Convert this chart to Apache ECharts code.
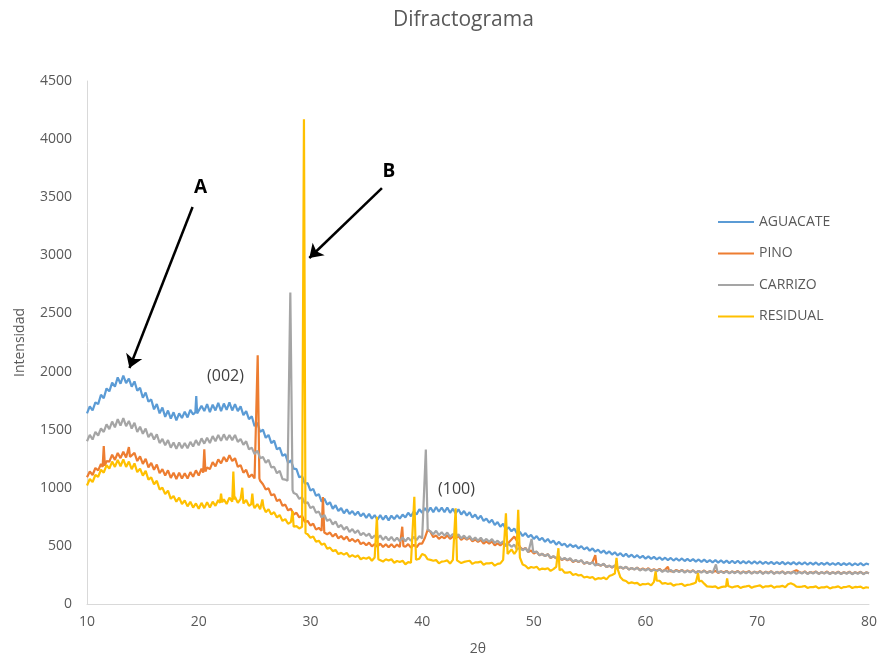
<!DOCTYPE html>
<html>
<head>
<meta charset="utf-8">
<script src="https://cdn.jsdelivr.net/npm/echarts@6/dist/echarts.min.js"></script>
<style>
html,body{margin:0;padding:0;background:#fff;}
#chart{width:880px;height:662px;}
</style>
</head>
<body>
<div id="chart"></div>
<script>
// ---- data ----
const chartTitle = 'Difractograma';
const xName = '2θ';
const yName = 'Intensidad';
const seriesNames = ['AGUACATE', 'PINO', 'CARRIZO', 'RESIDUAL'];
const twoThetaStart = 10;
const twoThetaStep = 0.25;
const xTicks = [10, 20, 30, 40, 50, 60, 70, 80];
const yTicks = [0, 500, 1000, 1500, 2000, 2500, 3000, 3500, 4000, 4500];

const aguacate = [
1640,1700,1665,1735, 1720,1800,1770,1855, 1830,1905,1870,1950, 1895,1965,1900,1940,
1870,1915,1835,1860, 1775,1820,1740,1760, 1675,1720,1640,1690, 1610,1665,1595,1650,
1580,1640,1600,1655, 1605,1670,1630,1700, 1640,1705,1660,1720, 1650,1715,1665,1730,
1660,1725,1670,1735, 1665,1720,1660,1700, 1625,1660,1590,1615, 1530,1560,1480,1500,
1430,1455,1385,1405, 1330,1345,1275,1290, 1215,1235,1165,1160, 1090,1100,1035,1040,
975,990,930,945, 880,905,855,875, 820,850,800,825, 780,815,775,800,
765,795,755,780, 740,775,735,765, 725,765,725,760, 720,760,730,765,
735,770,745,785, 755,795,770,815, 785,825,790,830, 790,835,795,830,
790,830,785,820, 780,815,770,800, 760,790,745,770, 730,760,715,735,
700,725,680,705, 665,690,640,660, 625,650,605,620, 585,610,575,595,
560,585,550,570, 535,560,525,545, 510,535,505,520, 490,515,490,505,
478,498,470,488, 458,478,450,468, 440,460,433,452, 425,445,418,437,
410,432,405,424, 400,420,396,414, 390,410,388,405, 384,402,380,398,
378,396,374,392, 372,392,370,388, 368,386,365,383, 362,382,360,378,
358,378,356,376, 354,374,352,372, 352,372,350,368, 350,368,347,366,
348,366,345,363, 346,363,343,361, 344,362,341,359, 342,360,340,357,
341,359,338,356, 340,357,337,354, 338,356,336,352, 337,354,334,351,
336,352,333,350, 335,351,332,348, 340
];
const pino = [
1090,1140,1110,1170, 1150,1205,1190,1230, 1225,1285,1240,1300, 1255,1310,1260,1290,
1255,1300,1230,1270, 1205,1250,1175,1215, 1155,1200,1125,1160, 1105,1150,1085,1130,
1075,1130,1080,1125, 1080,1135,1095,1150, 1105,1165,1140,1175, 1160,1220,1185,1245,
1210,1265,1225,1280, 1230,1255,1180,1195, 1130,1155,1090,1115, 1080,1100,1060,1030,
985,995,935,945, 885,900,845,855, 805,820,770,785, 745,760,705,715,
675,690,640,655, 630,620,600,615, 580,605,565,585, 555,580,540,560,
535,555,515,530, 505,528,495,515, 492,520,490,515, 488,515,487,512,
490,510,492,515, 485,510,488,520, 520,570,640,620, 575,590,560,580,
565,590,560,580, 565,585,552,572, 555,572,538,555, 535,552,520,538,
520,538,505,522, 505,525,500,530, 555,580,540,490, 468,482,448,460,
435,450,418,432, 412,428,396,410, 392,408,378,392, 375,390,362,375,
360,375,345,360, 345,360,350,345, 330,345,318,330, 314,330,305,318,
305,320,297,310, 298,313,292,305, 292,308,287,300, 287,302,282,296,
300,298,278,292, 279,294,274,288, 276,290,271,285, 274,288,269,283,
272,286,267,281, 271,285,266,280, 270,284,265,279, 269,283,264,278,
268,282,263,277, 268,281,263,276, 267,281,262,276, 267,280,290,276,
266,280,261,275, 266,279,261,274, 265,279,260,274, 265,278,260,273,
264,278,259,273, 264,277,259,272, 265
];
const carrizo = [
1400,1455,1415,1480, 1450,1510,1480,1545, 1505,1570,1520,1590, 1535,1600,1530,1575,
1510,1560,1480,1525, 1465,1510,1435,1470, 1415,1460,1385,1420, 1365,1410,1345,1390,
1335,1390,1340,1385, 1340,1395,1355,1410, 1365,1425,1380,1430, 1385,1445,1400,1455,
1405,1460,1410,1455, 1410,1455,1395,1420, 1370,1400,1330,1345, 1290,1320,1255,1265,
1215,1240,1175,1180, 1125,1145,1075,1070, 1010,990,955,945, 905,920,865,875,
825,840,785,795, 745,765,715,730, 685,710,660,680, 640,665,620,645,
610,635,592,612, 585,605,565,590, 560,590,552,580, 548,578,542,570,
540,572,540,570, 545,578,550,585, 565,600,620,625, 600,630,592,618,
588,615,578,602, 575,600,565,588, 560,585,550,572, 545,570,538,560,
535,558,525,545, 520,540,500,515, 492,510,470,485, 462,480,445,460,
435,450,418,432, 412,428,398,412, 395,410,382,396, 380,395,366,380,
362,378,348,360, 344,360,332,345, 330,346,318,330, 316,332,306,320,
306,320,297,310, 297,312,288,302, 288,303,282,296, 282,298,277,292,
277,294,273,289, 274,291,270,287, 272,288,268,284, 270,286,266,282,
268,285,265,281, 266,283,263,280, 265,282,262,279, 264,281,261,278,
264,280,260,277, 263,280,260,277, 263,279,259,276, 262,279,259,276,
262,278,258,275, 261,278,258,275, 261,277,257,274, 260,277,257,274,
260,276,256,273, 259,276,256,272, 265
];
const residual = [
1020,1075,1050,1110, 1095,1155,1130,1195, 1165,1225,1180,1240, 1185,1245,1180,1225,
1160,1210,1135,1165, 1105,1145,1070,1090, 1030,1060,985,1000, 945,975,905,930,
880,915,860,890, 840,880,830,865, 820,870,825,875, 830,880,845,895,
870,900,860,915, 880,920,870,905, 860,895,845,880, 825,860,815,850,
790,815,770,790, 745,765,715,730, 690,705,660,670, 650,665,610,600,
570,580,535,545, 510,520,475,485, 455,465,430,440, 425,440,405,420,
405,418,385,398, 390,402,372,400, 380,395,365,385, 375,385,355,370,
362,372,342,360, 355,360,370,390, 430,420,385,380, 372,378,350,365,
368,375,348,380, 370,385,352,362, 368,372,345,358, 358,365,338,350,
350,355,330,345, 350,380,400,420, 470,430,450,400, 340,330,305,318,
312,320,295,305, 300,308,285,300, 320,300,300,270, 270,275,250,258,
245,250,228,235, 225,232,210,222, 218,228,212,240, 250,262,300,230,
205,198,178,186, 178,182,162,172, 170,176,160,190, 200,200,175,180,
172,178,158,168, 170,174,155,165, 168,175,185,190, 200,175,152,150,
148,152,135,145, 150,155,160,142, 150,155,138,148, 152,157,140,150,
155,160,142,152, 152,158,140,150, 150,156,145,170, 178,168,150,148,
150,155,138,146, 145,152,135,144, 143,150,134,143, 145,152,136,146,
148,154,138,147, 146,150,135,144, 140
];

// sharp diffraction peaks: [2θ, intensity] groups
const aguacatePeaks = [
  [[19.7,1650],[19.78,1790],[19.86,1640]]
];
const pinoPeaks = [
  [[11.4,1180],[11.5,1360],[11.6,1190]],
  [[13.65,1270],[13.75,1350],[13.85,1265]],
  [[20.4,1130],[20.5,1330],[20.6,1140]],
  [[25.12,1090],[25.28,2140],[25.43,1080]],
  [[31.0,630],[31.12,920],[31.24,615]],
  [[38.12,495],[38.22,665],[38.32,500]],
  [[55.4,350],[55.5,420],[55.6,345]],
  [[61.9,290],[62.0,320],[62.1,285]]
];
const carrizoPeaks = [
  [[27.95,1060],[28.2,2680],[28.4,980]],
  [[40.15,580],[40.33,1330],[40.5,640]],
  [[49.65,455],[49.8,560],[49.95,445]],
  [[66.15,275],[66.3,340],[66.45,270]]
];
const residualPeaks = [
  [[21.9,870],[22.0,950],[22.1,875]],
  [[23.0,880],[23.1,1140],[23.2,900]],
  [[23.8,890],[23.9,1000],[24.0,865]],
  [[24.7,860],[24.8,950],[24.9,850]],
  [[25.6,830],[25.7,900],[25.8,835]],
  [[28.3,700],[28.4,800],[28.5,665]],
  [[29.28,655],[29.42,4170],[29.56,610]],
  [[35.82,395],[35.95,751],[36.08,385]],
  [[39.15,360],[39.3,923],[39.45,380]],
  [[42.88,370],[43.0,823],[43.12,375]],
  [[47.35,390],[47.5,780],[47.65,430]],
  [[48.45,460],[48.6,810],[48.75,400]],
  [[52.1,310],[52.2,480],[52.3,290]],
  [[57.3,270],[57.4,396],[57.5,300]],
  [[60.8,180],[60.9,280],[61.0,200]],
  [[64.6,190],[64.7,265],[64.8,195]],
  [[67.2,150],[67.3,220],[67.4,155]]
];

// annotation texts (data coordinates)
const annotations = [
  {text: 'A', at: [20.17, 3579], bold: true, size: 19},
  {text: 'B', at: [37.02, 3717], bold: true, size: 19},
  {text: '(002)', at: [22.4, 1962], bold: false, size: 16},
  {text: '(100)', at: [43.08, 990], bold: false, size: 16}
];
const arrows = [
  [[19.45, 3416], [13.8, 2031]],
  [[36.4, 3579], [29.9, 2977]]
];

// ---- build ----
function buildSeries(values, peaks) {
  const pts = values.map((v, i) => [twoThetaStart + i * twoThetaStep, v]);
  const kept = pts.filter(p => !peaks.some(g => p[0] >= g[0][0] && p[0] <= g[g.length - 1][0]));
  peaks.forEach(g => g.forEach(p => kept.push(p)));
  kept.sort((a, b) => a[0] - b[0]);
  return kept;
}

const colors = ['#5B9BD5', '#ED7D31', '#A5A5A5', '#FFC000'];
const allValues = [aguacate, pino, carrizo, residual];
const allPeaks = [aguacatePeaks, pinoPeaks, carrizoPeaks, residualPeaks];
const FONT = '"Open Sans", sans-serif';
const TXT = '#595959';

const chart = echarts.init(document.getElementById('chart'), null, {renderer: 'canvas'});

const series = seriesNames.map((name, i) => ({
  name: name,
  type: 'line',
  data: buildSeries(allValues[i], allPeaks[i]),
  showSymbol: false,
  symbol: 'none',
  lineStyle: {width: 2.2, color: colors[i]},
  itemStyle: {color: colors[i]},
  animation: false,
  silent: true
}));

series[3].markLine = {
  silent: true,
  animation: false,
  symbol: ['none', 'arrow'],
  symbolSize: 13,
  label: {show: false},
  lineStyle: {color: '#000', width: 2.5, type: 'solid'},
  emphasis: {disabled: true},
  data: arrows.map(a => [{coord: a[0]}, {coord: a[1]}])
};

const option = {
  backgroundColor: '#fff',
  animation: false,
  color: colors,
  title: {
    text: chartTitle,
    left: 388,
    top: 5,
    textStyle: {fontFamily: FONT, fontSize: 21, fontWeight: 'normal', color: TXT}
  },
  legend: {
    orient: 'vertical',
    left: 713,
    top: 209,
    icon: 'rect',
    itemWidth: 36,
    itemHeight: 2,
    itemGap: 15.5,
    data: seriesNames,
    textStyle: {fontFamily: FONT, fontSize: 14, color: TXT, lineHeight: 16}
  },
  grid: {left: 87, right: 8, top: 81, bottom: 58, containLabel: false},
  xAxis: {
    type: 'value',
    min: xTicks[0],
    max: xTicks[xTicks.length - 1],
    interval: 10,
    name: xName,
    nameLocation: 'middle',
    nameGap: 38,
    nameTextStyle: {fontFamily: FONT, fontSize: 14, color: TXT},
    axisLine: {show: true, lineStyle: {color: '#D9D9D9', width: 1}},
    axisTick: {show: false},
    splitLine: {show: false},
    axisLabel: {fontFamily: FONT, fontSize: 14, color: TXT, margin: 11, formatter: v => String(v)}
  },
  yAxis: {
    type: 'value',
    min: yTicks[0],
    max: yTicks[yTicks.length - 1],
    interval: 500,
    name: yName,
    nameLocation: 'middle',
    nameGap: 60,
    nameRotate: 90,
    nameTextStyle: {fontFamily: FONT, fontSize: 14, color: TXT},
    axisLine: {show: true, lineStyle: {color: '#D9D9D9', width: 1}},
    axisTick: {show: false},
    splitLine: {show: false},
    axisLabel: {fontFamily: FONT, fontSize: 14, color: TXT, margin: 15, formatter: v => String(v)}
  },
  series: series
};

chart.setOption(option);

const graphics = annotations.map(a => {
  const p = chart.convertToPixel({gridIndex: 0}, a.at);
  return {
    type: 'text',
    x: p[0],
    y: p[1],
    silent: true,
    z: 100,
    style: {
      text: a.text,
      fontFamily: FONT,
      fontSize: a.size,
      fontWeight: a.bold ? 'bold' : 'normal',
      fill: a.bold ? '#000' : '#404040',
      align: 'center',
      verticalAlign: 'middle'
    }
  };
});
chart.setOption({graphic: graphics});
</script>
</body>
</html>
